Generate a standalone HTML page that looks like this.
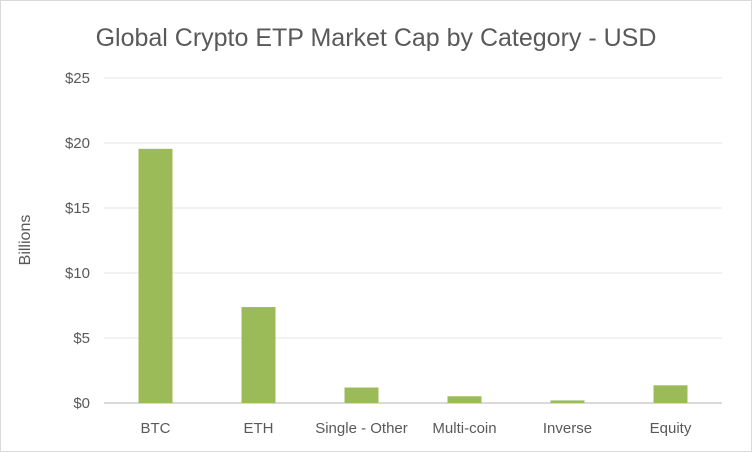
<!DOCTYPE html>
<html><head><meta charset="utf-8"><style>
html,body{margin:0;padding:0;background:#fff;}
svg{display:block;font-family:"Liberation Sans",sans-serif;}
</style></head><body>
<svg id="chart" width="752" height="452">
<rect x="0.5" y="0.5" width="751" height="451" fill="#fff" stroke="#d9d9d9"/>
<text x="376" y="46" text-anchor="middle" font-size="25" fill="#595959">Global Crypto ETP Market Cap by Category - USD</text>
<text transform="translate(30,240) rotate(-90)" text-anchor="middle" font-size="16" fill="#595959">Billions</text>
<g id="grid"></g><g id="bars"></g><g id="labels"></g>
</svg>
<script>
const categories = ["BTC","ETH","Single - Other","Multi-coin","Inverse","Equity"];
const values = [19.55, 7.38, 1.19, 0.52, 0.2, 1.36];
const ticks = [0,5,10,15,20,25];
const tickLabels = ["$0","$5","$10","$15","$20","$25"];
const NS="http://www.w3.org/2000/svg";
const x0=104,x1=722,y0=403,yTop=78,maxV=25;
const y=v=>y0-(v/maxV)*(y0-yTop);
const band=(x1-x0)/categories.length;
const xc=i=>x0+band*(i+0.5);
const grid=document.getElementById('grid'),bars=document.getElementById('bars'),labels=document.getElementById('labels');
ticks.forEach((t,i)=>{
  const l=document.createElementNS(NS,'line');
  l.setAttribute('x1',x0);l.setAttribute('x2',x1);l.setAttribute('y1',y(t));l.setAttribute('y2',y(t));
  l.setAttribute('stroke',t===0?'#d9d9d9':'#e6e6e6');l.setAttribute('stroke-width',t===0?2:1);
  
  
  grid.appendChild(l);
  const tx=document.createElementNS(NS,'text');
  tx.setAttribute('x',90);tx.setAttribute('y',y(t)+5);tx.setAttribute('text-anchor','end');
  tx.setAttribute('font-size','15');tx.setAttribute('fill','#595959');
  tx.textContent=tickLabels[i];
  
  
  labels.appendChild(tx);
});
categories.forEach((c,i)=>{
  const r=document.createElementNS(NS,'rect');
  const w=34;
  r.setAttribute('x',xc(i)-w/2);r.setAttribute('width',w);
  r.setAttribute('y',y(values[i]));r.setAttribute('height',y0-y(values[i]));
  r.setAttribute('fill','#9bbb59');
  
  
  bars.appendChild(r);
  const tx=document.createElementNS(NS,'text');
  tx.setAttribute('x',xc(i));tx.setAttribute('y',433);tx.setAttribute('text-anchor','middle');
  tx.setAttribute('font-size','15');tx.setAttribute('fill','#595959');
  tx.textContent=c;
  
  
  labels.appendChild(tx);
});
</script>
</body></html>
